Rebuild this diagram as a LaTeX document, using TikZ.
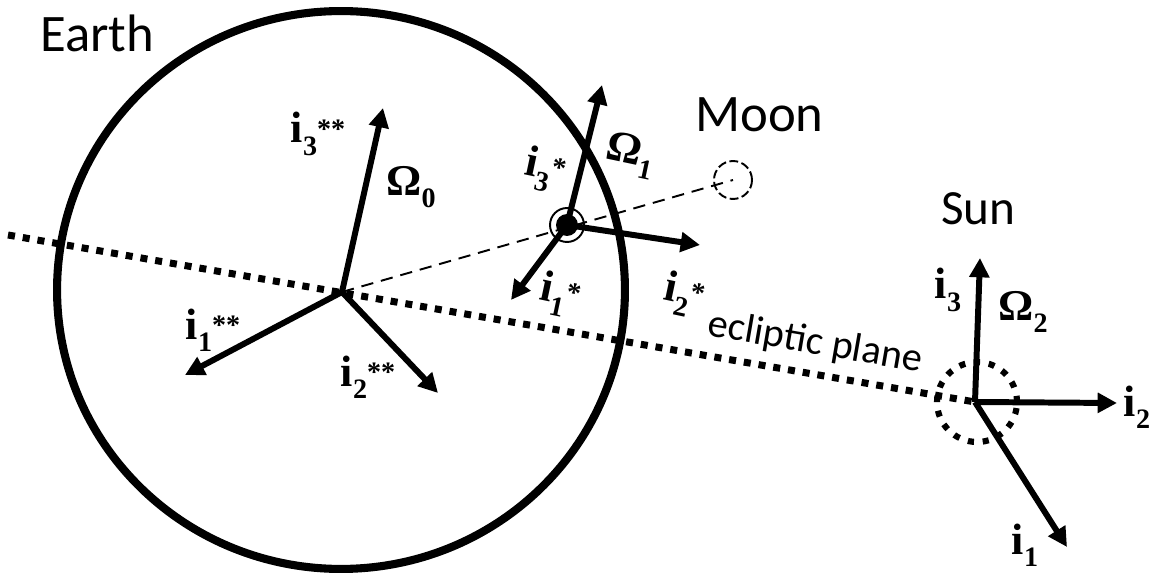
\documentclass[tikz,border=0pt]{standalone}
\usepackage{fontspec}
\setmainfont{Liberation Serif}
\newfontfamily\calib{Carlito}
\usetikzlibrary{arrows.meta,shapes.geometric}
\newcommand{\vlab}[3]{\textbf{#1\raisebox{-0.28em}{\fontsize{16}{16}\selectfont #2}\raisebox{0.1em}{\fontsize{16}{16}\selectfont #3}}}
\tikzset{
  vec/.style={line width=3.4pt,-{Triangle[length=11pt,width=11pt]}},
  eclip/.style={line width=4pt,dash pattern=on 4pt off 4.5pt},
  lab/.style={inner sep=0pt,font=\fontsize{25}{25}\selectfont},
  bigname/.style={inner sep=0pt,font=\calib\fontsize{30}{30}\selectfont},
}
\begin{document}
\begin{tikzpicture}[x=0.02cm,y=-0.02cm]
\useasboundingbox (0,0) rectangle (1161,574);
% Earth
\node[ellipse,draw,line width=4.6pt,minimum width=11.36cm,minimum height=11.16cm,inner sep=0pt] (earth) at (341,290) {};
\node[bigname,anchor=base west] (earthlab) at (40,52) {Earth};
\coordinate (EO) at (342,292);
% Sun
\coordinate (SO) at (975,402);
\node[circle,draw,line width=3.5pt,dash pattern=on 3.5pt off 5pt,minimum size=1.6cm,inner sep=0pt] (sun) at (977,402) {};
\node[bigname,anchor=base west,font=\calib\fontsize{28}{28}\selectfont] (sunlab) at (941,225) {Sun};
% Moon
\node[circle,draw,dash pattern=on 5pt off 2pt,line width=1.1pt,minimum size=0.76cm,inner sep=0pt] (moon) at (733,180) {};
\node[bigname,anchor=base west] (moonlab) at (695,132) {Moon};
\coordinate (MO) at (567,225);
% ecliptic
\coordinate (eclStart) at (8,235);
\draw[eclip] (eclStart) -- (SO);
\node[inner sep=0pt,font=\calib\fontsize{23}{23}\selectfont,rotate=-9.8] (ecllab) at (815,343) {ecliptic plane};
% Earth-Moon line
\draw[line width=1.1pt,dash pattern=on 7pt off 4.5pt] (EO) -- (moon.center);
% Earth frame
\coordinate (e3) at (383,108);
\coordinate (e1) at (185,375);
\coordinate (e2) at (438,393);
\draw[vec] (EO) -- (e3);
\draw[vec] (EO) -- (e1);
\draw[vec] (EO) -- (e2);
\node[lab] (l3ss) at (318,134) {\vlab{i}{3}{**}};
\node[lab] (lO0) at (411,187) {\vlab{Ω}{0}{}};
\node[lab] (l1ss) at (213,330) {\vlab{i}{1}{**}};
\node[lab] (l2ss) at (368,377) {\vlab{i}{2}{**}};
% Moon frame
\coordinate (m3) at (602,85);
\coordinate (m1) at (511,300);
\coordinate (m2) at (700,245);
\draw[vec] (MO) -- (m3);
\draw[vec] (MO) -- (m1);
\draw[vec] (MO) -- (m2);
\node[circle,draw,line width=1.1pt,minimum size=0.68cm,inner sep=0pt] (ring) at (MO) {};
\node[circle,fill,minimum size=0.44cm,inner sep=0pt] (dot) at (MO) {};
\node[lab,rotate=-12] (l3s) at (545,170) {\vlab{i}{3}{*}};
\node[lab,rotate=-12] (lO1) at (630,155) {\vlab{Ω}{1}{}};
\node[lab,rotate=-12] (l1s) at (560,295) {\vlab{i}{1}{*}};
\node[lab,rotate=-12] (l2s) at (684,295) {\vlab{i}{2}{*}};
% Sun frame
\coordinate (s3) at (980,258);
\coordinate (s2) at (1117,403);
\coordinate (s1) at (1067,547);
\draw[vec] (SO) -- (s3);
\draw[vec] (SO) -- (s2);
\draw[vec] (SO) -- (s1);
\node[lab] (l3) at (948,290) {\vlab{i}{3}{}};
\node[lab] (lO2) at (1023,312) {\vlab{Ω}{2}{}};
\node[lab] (l2) at (1137,407) {\vlab{i}{2}{}};
\node[lab] (l1) at (1025,545) {\vlab{i}{1}{}};
\end{tikzpicture}
\end{document}
